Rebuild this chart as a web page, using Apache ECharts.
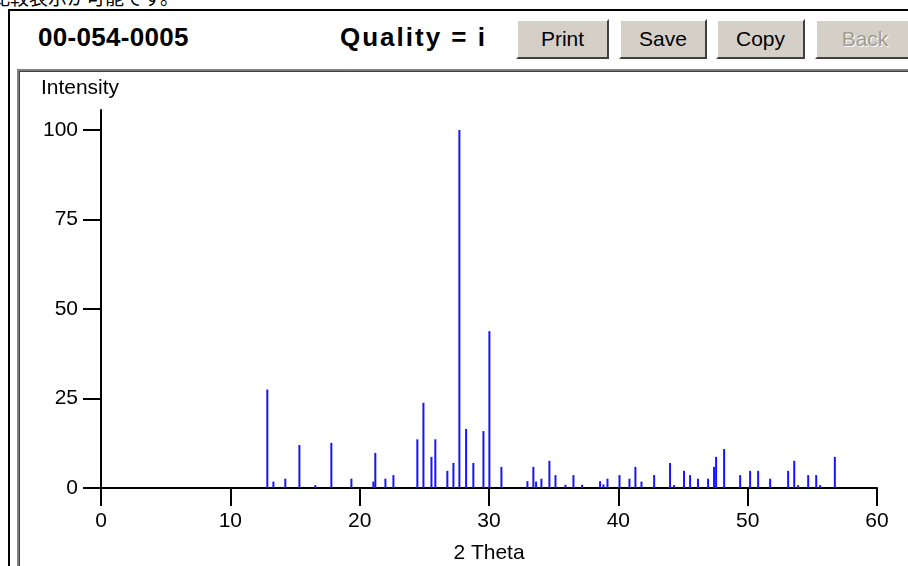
<!DOCTYPE html>
<html>
<head>
<meta charset="utf-8">
<title>00-054-0005</title>
<script src="https://cdn.jsdelivr.net/npm/echarts@6/dist/echarts.min.js"></script>
<style>
  html, body { margin: 0; padding: 0; background: #fff; width: 908px; height: 566px; overflow: hidden; }
  body { position: relative; font-family: 'Liberation Sans', Arial, sans-serif; }
  .note { position: absolute; left: -9px; top: -13px; font: 19px/20px 'Noto Sans CJK JP', sans-serif; white-space: nowrap; }
  .win { position: absolute; left: 8px; top: 9px; width: 960px; height: 620px; border-top: 2px solid #000; border-left: 2px solid #000; }
  .hdr { position: absolute; top: 24px; font: bold 26px/26px 'Liberation Sans', Arial, sans-serif; white-space: nowrap; }
  .btn { position: absolute; top: 19px; height: 40px; box-sizing: border-box; background: #d4d0c8;
         border-top: 2px solid #fff; border-left: 2px solid #fff; border-right: 2px solid #404040; border-bottom: 2px solid #404040;
         font-size: 21px; line-height: 35px; text-align: center; color: #000; }
  .btn.off { color: #a09c94; text-shadow: 1px 1px 0 #fff; }
  .panel { position: absolute; left: 17px; top: 69px; width: 960px; height: 620px;
           border-top: 2px solid #808080; border-left: 2px solid #808080; box-shadow: inset 1px 1px 0 #404040; }
  #chart { position: absolute; left: 0; top: 0; width: 908px; height: 566px; }
</style>
</head>
<body>
<div class="note">比較表示が可能です。</div>
<div class="win"></div>
<div class="hdr" style="left:38px;letter-spacing:0.3px">00-054-0005</div>
<div class="hdr" style="left:340px;letter-spacing:2px">Quality = i</div>
<div class="btn" style="left:516px;width:93px">Print</div>
<div class="btn" style="left:619px;width:88px">Save</div>
<div class="btn" style="left:716px;width:89px">Copy</div>
<div class="btn off" style="left:815px;width:100px">Back</div>
<div class="panel"></div>
<div id="chart"></div>
<script>
// peak positions (2 theta) and relative intensities
const twoTheta = [
  12.86, 13.33, 14.25, 15.34, 16.57, 17.81, 19.36, 21.06, 21.21, 21.99,
  22.61, 24.46, 24.93, 25.55, 25.85, 26.78, 27.25, 27.71, 28.23, 28.79,
  29.57, 30.03, 30.96, 32.97, 33.43, 33.64, 34.05, 34.67, 35.14, 35.91,
  36.53, 37.2, 38.59, 38.85, 39.16, 40.09, 40.86, 41.32, 41.79, 42.77,
  44.0, 44.31, 45.08, 45.55, 46.16, 46.94, 47.4, 47.56, 48.18, 49.42,
  50.19, 50.81, 51.74, 53.13, 53.6, 53.9, 54.68, 55.3, 55.6, 56.74
]
const intensity = [
  27.5, 1.8, 2.6, 12.0, 0.8, 12.6, 2.6, 1.8, 9.8, 2.6,
  3.6, 13.6, 23.8, 8.7, 13.6, 4.8, 7.0, 100, 16.5, 7.0,
  15.9, 43.8, 5.9, 1.9, 5.9, 1.8, 2.6, 7.6, 3.6, 0.9,
  3.6, 0.9, 1.9, 1.0, 2.6, 3.6, 2.6, 5.9, 1.8, 3.6,
  7.0, 0.8, 4.8, 3.6, 2.6, 2.6, 5.9, 8.7, 10.9, 3.6,
  4.8, 4.8, 2.6, 4.8, 7.6, 0.8, 3.6, 3.6, 0.8, 8.7
]
const xTicks = [0, 10, 20, 30, 40, 50, 60]
const yTicks = [0, 25, 50, 75, 100]

const stickData = twoTheta.map((t, i) => [t, intensity[i]])
const axisFont = "'Liberation Sans', Arial, sans-serif"

const chart = echarts.init(document.getElementById('chart'))
chart.setOption({
  animation: false,
  textStyle: { fontFamily: axisFont },
  grid: { left: 101, right: 31, top: 110, bottom: 78, outerBoundsMode: 'none' },
  xAxis: {
    type: 'value',
    min: xTicks[0],
    max: xTicks[xTicks.length - 1],
    interval: 10,
    name: '2 Theta',
    nameLocation: 'middle',
    nameGap: 65,
    nameTextStyle: { color: '#000', fontSize: 21, fontFamily: axisFont, verticalAlign: 'middle' },
    axisLine: { onZero: false, lineStyle: { color: '#000', width: 2 } },
    axisTick: { length: 18, lineStyle: { color: '#000', width: 2 } },
    axisLabel: { margin: 23, color: '#000', fontSize: 21, fontFamily: axisFont, verticalAlign: 'top' },
    splitLine: { show: false },
  },
  yAxis: {
    type: 'value',
    min: 0,
    max: 105.6, // axis line runs a little past 100
    name: 'Intensity',
    nameLocation: 'end',
    nameGap: 22,
    nameTextStyle: { color: '#000', fontSize: 21, fontFamily: axisFont, align: 'center', verticalAlign: 'middle', padding: [0, 42, 0, 0] },
    axisLine: { show: true, onZero: false, lineStyle: { color: '#000', width: 2 } },
    axisTick: { show: true, length: 18, customValues: yTicks, lineStyle: { color: '#000', width: 2 } },
    axisLabel: { customValues: yTicks, margin: 23, color: '#000', fontSize: 21, fontFamily: axisFont },
    splitLine: { show: false },
  },
  series: [
    {
      type: 'bar',
      data: stickData,
      barWidth: 2,
      itemStyle: { color: '#1414ff' },
      silent: true,
    },
  ],
})
</script>
</body>
</html>
